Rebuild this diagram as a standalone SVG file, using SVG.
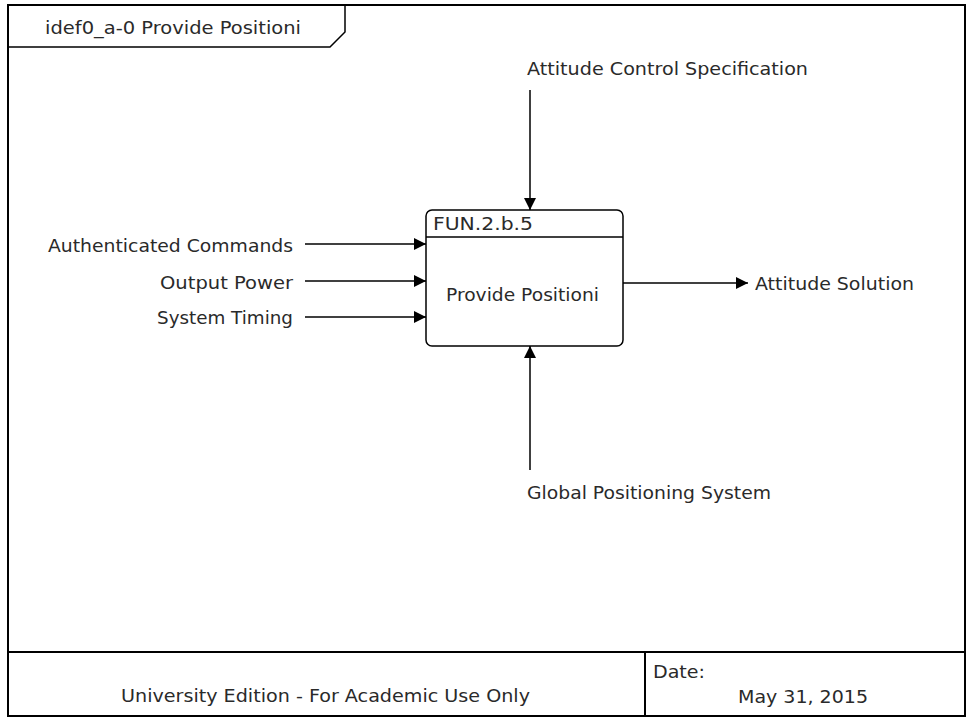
<svg xmlns="http://www.w3.org/2000/svg" width="969" height="719" viewBox="0 0 969 719">
<defs>
<marker id="arr" viewBox="0 0 12 12" refX="12" refY="6" markerWidth="12" markerHeight="12" markerUnits="userSpaceOnUse" orient="auto">
<path d="M0,0 L12,6 L0,12 Z" fill="#000"/>
</marker>
</defs>
<style>
text{font-family:"DejaVu Sans","Liberation Sans",sans-serif;font-size:17px;fill:#2a2a2a}
.frame{fill:none;stroke:#000;stroke-width:2}
.thin{fill:none;stroke:#000;stroke-width:1.5}
.conn{fill:none;stroke:#000;stroke-width:1.5;marker-end:url(#arr)}
.end{text-anchor:end}
.mid{text-anchor:middle}
</style>
<rect width="969" height="719" fill="#fff"/>
<g id="frame">
<rect class="frame" x="8" y="5" width="957" height="711"/>
<path class="thin" d="M8,47 H330 L345,32 V5"/>
<text x="45" y="34" textLength="256" lengthAdjust="spacingAndGlyphs">idef0_a-0 Provide Positioni</text>
<line class="frame" x1="8" y1="652" x2="965" y2="652"/>
<line class="frame" x1="645" y1="652" x2="645" y2="716"/>
<text x="121" y="702" textLength="409" lengthAdjust="spacingAndGlyphs">University Edition - For Academic Use Only</text>
<text x="653" y="678" textLength="52" lengthAdjust="spacingAndGlyphs">Date:</text>
<text x="738" y="703" textLength="130" lengthAdjust="spacingAndGlyphs">May 31, 2015</text>
</g>
<g id="node-fun">
<rect class="thin" x="426" y="210" width="197" height="136" rx="6"/>
<line class="thin" x1="426" y1="237" x2="623" y2="237"/>
<text x="433" y="230" textLength="100" lengthAdjust="spacingAndGlyphs">FUN.2.b.5</text>
<text x="446" y="301" textLength="153" lengthAdjust="spacingAndGlyphs">Provide Positioni</text>
</g>
<g id="labels">
<text x="527" y="75" textLength="281" lengthAdjust="spacingAndGlyphs">Attitude Control Specification</text>
<text x="48" y="252" textLength="245" lengthAdjust="spacingAndGlyphs">Authenticated Commands</text>
<text x="160" y="289" textLength="133" lengthAdjust="spacingAndGlyphs">Output Power</text>
<text x="157" y="324" textLength="136" lengthAdjust="spacingAndGlyphs">System Timing</text>
<text x="755" y="290" textLength="159" lengthAdjust="spacingAndGlyphs">Attitude Solution</text>
<text x="527" y="499" textLength="244" lengthAdjust="spacingAndGlyphs">Global Positioning System</text>
</g>
<g id="connectors">
<line class="conn" x1="530" y1="90" x2="530" y2="210"/>
<line class="conn" x1="305" y1="244" x2="426" y2="244"/>
<line class="conn" x1="305" y1="281" x2="426" y2="281"/>
<line class="conn" x1="305" y1="317" x2="426" y2="317"/>
<line class="conn" x1="623" y1="283" x2="748" y2="283"/>
<line class="conn" x1="530" y1="470" x2="530" y2="346"/>
</g>
</svg>
